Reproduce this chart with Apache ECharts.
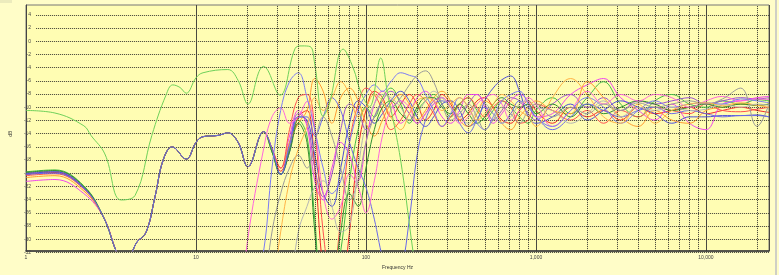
<!DOCTYPE html>
<html>
<head>
<meta charset="utf-8">
<script src="https://cdn.jsdelivr.net/npm/echarts@6/dist/echarts.min.js"></script>
<style>
html,body{margin:0;padding:0;background:#fffdc8;}
#c{width:779px;height:275px;}
</style>
</head>
<body>
<div id="c"></div>
<script>
// ---------- data ----------
const Y_TICKS_MIN = -32, Y_TICKS_MAX = 4, Y_TICK_STEP = 2;
const MINOR_LINES = [20,30,40,50,60,70,80,90,200,300,400,500,600,700,800,900,2000,3000,4000,5000,6000,7000,8000,9000,20000];

// low-frequency grid shared by most curves (Hz)
const LF = [1, 1.48, 2.19, 2.87, 3.43, 3.8, 4.15, 4.49, 5.08, 5.74, 6.42, 7.25, 8.76, 10, 11, 13.5, 15.4, 17.7, 20.2];
const BASE_LOW = [-27.8, -33.3, -35, -33.5, -31.6, -30.1, -24.5, -18.7, -16.7, -18.6, -16, -15.1, -14.9, -14.5, -16, -19.8];
// high-frequency grid (Hz)
const HF = [25, 28, 31.5, 35.5, 40, 45, 50, 56, 63, 71, 80, 90, 100, 112, 125, 140, 160, 180, 200, 224, 250, 280, 315, 355, 400, 450, 500, 560, 630, 710, 800, 900, 1000, 1250, 1600, 2000, 2500, 3150, 4000, 5000, 6300, 8000, 10000, 12500, 16000, 20000, 23500];

const RED_START = [-21.0, -20.7, -23.2];
const RED_HI = [-14.3,-17,-20.5,-17,-12, -11,-20,-36,-42,-40, -30,-17,-11,-8,-9, -12,-10,-8.5,-10,-12.5, -11,-8.5,-10,-12.5,-11.5, -9.5,-9,-10.5,-12.5,-13, -11,-9.5,-11,-13,-10.5, -12,-11,-12.5,-10.5,-11.5, -11,-10.5,-11.5,-11,-10.5, -11,-11.3];
const GREEN_START = [-20.6, -20.3, -22.8];
const GREEN_HI = [-14.3,-17.5,-21,-17,-12.5, -15,-28,-40,-40,-33, -22,-14,-10.5,-12,-9, -7.5,-10,-13,-11,-9.5, -8.5,-10,-12,-10,-9, -11,-12.5,-11,-9.5,-10.5, -12,-13,-11,-9,-11.5, -9,-6.5,-10,-12,-9.5, -8.5,-10,-10.5,-9.5,-10, -9.3,-9.5];
const PURPLE_START = [-20.8, -20.5, -23.0];
const PURPLE_HI = [-14.3,-17,-21,-16,-11.5, -13,-20,-24.5,-21,-14, -10,-11,-14,-12,-9.5, -8,-9.5,-11.5,-13,-11.5, -9.5,-9,-10.5,-12,-10, -8.5,-10,-12.5,-11,-9, -9.5,-11.5,-12.5,-10,-8.5, -10.5,-9,-11,-9.5,-10, -9.5,-9,-10,-9.5,-9, -9.2,-9];
const MAGENTA_START = [-22.1, -21.8, -24.0];
const MAGENTA_HI = [-14.3,-17,-20,-15,-11, -13.5,-22,-25,-20,-16, -18,-22,-16,-10,-8, -9.5,-13,-11.5,-9,-8, -9.5,-12,-13,-11,-8.5, -8.5,-10.5,-13,-11.5,-9.5, -8.5,-9.5,-12,-11.5,-8.5, -7,-6,-9,-11,-12.5, -10,-13,-14,-10,-9.5, -9,-8.8];
const BLUE_START = [-20.9, -20.6, -23.1];
const BLUE_HI = [-14.3,-17,-21,-17.5,-12, -12.5,-18,-24,-26,-20, -13,-9.5,-10.5,-13,-11.5, -9.5,-8,-9.5,-12,-13.5, -12,-10,-9.5,-11,-13.5, -12.5,-9.5,-7.5,-6.2,-5.6, -8,-12,-13,-12,-10, -12.5,-11,-9.5,-10.5,-11.5, -13,-12,-12,-11.8,-11.8, -11.7,-12];
const ORANGE_START = [-21.5, -21.2, -23.6];
const ORANGE_HI = [-14.3,-17,-20,-16,-13, -11,-6,-8,-13,-9, -7.5,-9.5,-13,-15,-12.5, -10,-8.5,-10,-12.5,-11, -9,-8,-9.5,-12.5,-13.5, -11.5,-9.5,-10.5,-13,-14, -12,-10.5,-9.5,-11,-11.5, -6.5,-9,-12,-13.5,-11, -12.5,-13,-11,-10.5,-10, -10.2,-10];
const RED2_START = [-21.2, -20.9, -23.3];
const RED2_HI = [-14.3,-17,-20,-14,-9, -8.5,-14,-30,-38,-28, -16,-10,-7.5,-8.5,-11, -14,-12.5,-10,-8.5,-9.5, -11.5,-13.5,-12,-10,-9, -10.5,-12,-10.5,-9.5,-10.5, -13,-12.5,-10,-11,-12.5, -11,-13,-11,-12,-10.5, -11,-11.5,-10,-11,-11.2, -10.8,-10.5];
const DKGREEN_START = [-20.7, -20.4, -22.9];
const DKGREEN_HI = [-14.3,-17.5,-21,-17.5,-13, -16,-30,-42,-40,-30, -24,-26,-20,-14,-10.5, -9.5,-11.5,-12.5,-10.5,-9, -9,-10.5,-11.5,-10,-11.5, -13,-12,-10,-9,-10, -10.5,-10,-11.5,-10,-12, -10,-11.5,-10.5,-9.5,-10, -11,-10.5,-10,-10.5,-10, -10.2,-10];
const BLUE4_START = [-21.0, -20.8, -23.2];
const BLUE4_HI = [-14.3,-17,-21,-16.5,-12, -12,-15,-12,-9,-11, -16,-20,-23,-28,-34, -38,-36,-28,-18,-12.5, -10,-9.5,-10.5,-13,-14.5, -12.5,-10.5,-11.5,-13,-11.5, -9.5,-10.5,-12,-14,-12, -10,-11,-12,-11,-10.5, -11.5,-11,-11.5,-12,-11.8, -11.8,-12];

// curves that start below the visible range
const MAG2_LOW = [null,null,null,null,null,null,null,null,null,null,null,null,null,null,null,null,null,-45,-31];
const MAG2_HI = [-17,-12,-10.6,-13,-12, -9.6,-14,-24,-28,-26, -21,-23,-27,-22,-15, -11,-9.5,-10.5,-13,-11.5, -10,-9,-10.5,-13,-12, -10,-9,-8.5,-10,-12.5, -11,-9,-10,-13.5,-11, -8,-10,-8.5,-9.5,-8.5, -9,-10.5,-9.5,-8.8,-9.5, -9.2,-9.3];
const BLUE2_LOW = [null,null,null,null,null,null,null,null,null,null,null,null,null,null,null,null,null,null,-45];
const BLUE2_HI = [-33,-20,-11,-6.5,-5.1, -9,-14,-20,-24,-22, -16,-11,-8.5,-7,-8, -6.5,-5.1,-5.5,-6,-8.5, -11,-13.5,-11.5,-9,-10.5, -13,-14,-12,-9.5,-8.5, -8,-10,-12,-13.5,-11, -9,-10.5,-13,-11,-9.5, -10.5,-10,-9.8,-10,-9.2, -9.5,-9.8];
const GRAY_HI = [-40,-30,-24,-20,-18, -20,-16,-12,-15,-20, -25,-22,-16,-12,-10, -10.5,-9,-7,-5.5,-4.8, -6.5,-10,-12.5,-11.5,-10, -12,-14,-12.5,-10.5,-11.5, -13,-11,-10,-12,-10.5, -11.5,-10,-11,-9.8,-10.5, -10,-9.5,-10,-9.2,-7.5, -13.5,-10];
const ORANGE2_HI = [null,-40,-30,-22,-17, -13.5,-9,-11,-9,-6.5, -8.5,-12,-10.5,-8.5,-9.5, -12,-14,-11.5,-9.5,-9, -9.5,-11,-10,-9,-10.5, -12.5,-11.5,-10,-8.5,-9.5, -11,-12,-13.5,-9,-6, -8.5,-12,-13,-10,-13, -11,-10,-9.8,-10.2,-9.8, -10.2,-10.5];
const GRAY2_HI = [null,null,null,-40,-30, -26,-23,-22,-26,-30, -29,-20,-13,-10,-8.5, -9,-10.5,-12.5,-11.5,-9.5, -8,-9,-10.5,-12,-13, -11,-10,-11.5,-13,-12, -10,-9.5,-10.5,-11,-13, -11.5,-9.5,-12,-10.5,-11, -10.5,-11,-10.8,-10,-10.5, -10,-10.2];

// reference (upper green) curve
const REF_F = [1, 1.48, 2.19, 2.41, 2.91, 3.62, 4.38, 5.5, 6.66, 7.3, 8.05, 8.76, 10, 11, 15.4, 17.7, 20.2, 23.5, 24.9, 31.2, 38.3, 42, 46.9, 50, 56, 61, 73.5, 84, 94, 105, 122, 135, 147, 163, 189, 220];
const REF_V = [-11, -11.4, -13.4, -14.9, -17.8, -25, -24.3, -14.9, -8.6, -7.0, -7.4, -8.3, -5.9, -5.1, -4.6, -6.3, -10, -4.9, -4.1, -8.6, -1.3, -0.9, -1.0, -3.8, -11.9, -9.9, -1.4, -4.3, -8.4, -10.4, -2.8, -8.9, -13.4, -20.2, -33, -45];

const NULL_LOW = LF.map(() => null);
const CURVES = [
  {color:'#f02828', lo:RED_START.concat(BASE_LOW), hi:RED_HI},
  {color:'#44bb44', lo:GREEN_START.concat(BASE_LOW), hi:GREEN_HI},
  {color:'#9b4fd0', lo:PURPLE_START.concat(BASE_LOW), hi:PURPLE_HI},
  {color:'#ee44ee', lo:MAGENTA_START.concat(BASE_LOW), hi:MAGENTA_HI},
  {color:'#4d4dd8', lo:BLUE_START.concat(BASE_LOW), hi:BLUE_HI},
  {color:'#ff9a30', lo:ORANGE_START.concat(BASE_LOW), hi:ORANGE_HI},
  {color:'#ff5050', lo:RED2_START.concat(BASE_LOW), hi:RED2_HI},
  {color:'#2f8f2f', lo:DKGREEN_START.concat(BASE_LOW), hi:DKGREEN_HI},
  {color:'#6a6ae8', lo:BLUE4_START.concat(BASE_LOW), hi:BLUE4_HI},
  {color:'#ff66dd', lo:MAG2_LOW, hi:MAG2_HI},
  {color:'#7b7bf5', lo:BLUE2_LOW, hi:BLUE2_HI},
  {color:'#9a9a9a', lo:NULL_LOW, hi:GRAY_HI},
  {color:'#ffb347', lo:NULL_LOW, hi:ORANGE2_HI},
  {color:'#b5b5b5', lo:NULL_LOW, hi:GRAY2_HI}
];

// ---------- chart ----------
const FREQ = LF.concat(HF);
function pairs(fs, vs){ const out=[]; for(let i=0;i<fs.length;i++){ if(vs[i]!==null && vs[i]!==undefined) out.push([fs[i], vs[i]]); } return out; }

const series = CURVES.map(c => ({
  type:'line', xAxisIndex:0, yAxisIndex:0, showSymbol:false, smooth:0.4, silent:true,
  lineStyle:{width:1, color:c.color}, itemStyle:{color:c.color},
  data: pairs(FREQ, c.lo.concat(c.hi)), z:3
}));
series.push({
  type:'line', xAxisIndex:0, yAxisIndex:0, showSymbol:false, smooth:0.4, silent:true,
  lineStyle:{width:1, color:'#6fd05a'}, data: pairs(REF_F, REF_V), z:4
});
series.push({
  type:'line', xAxisIndex:0, yAxisIndex:0, data:[], silent:true, z:2,
  markLine:{silent:true, symbol:['none','none'], label:{show:false}, animation:false,
    lineStyle:{color:'#3c3c32', width:1, type:'dotted'},
    data: MINOR_LINES.map(v => ({xAxis:v}))}
});

const chart = echarts.init(document.getElementById('c'), null, {renderer:'canvas'});
chart.setOption({
  animation:false,
  backgroundColor:'#fffdc8',
  textStyle:{fontFamily:'Liberation Sans, Arial, sans-serif'},
  graphic:[
    {type:'rect', shape:{x:0,y:0,width:12,height:3}, style:{fill:'#ecebbd'}, silent:true},
    {type:'rect', shape:{x:775,y:0,width:2,height:275}, style:{fill:'#cfcfc6'}, silent:true}
  ],
  grid:[
    {left:26, right:10, top:5, bottom:16, show:true, backgroundColor:'#fffdb3', borderColor:'#777', borderWidth:1},
    {left:26, right:10, top:14.9, bottom:22.6, show:false}
  ],
  xAxis:[
    {gridIndex:0, type:'log', logBase:10, min:1, max:23500, z:1,
     axisLine:{show:true, onZero:false, lineStyle:{color:'#333', width:1.5}}, axisTick:{show:false},
     axisLabel:{fontSize:5, color:'#444', margin:4, showMaxLabel:false, formatter:v => Number(v).toLocaleString('en-US')},
     splitLine:{show:true, lineStyle:{color:'#4a4a40', width:1, type:'solid'}},
     name:'Frequency Hz', nameLocation:'middle', nameGap:10, nameTextStyle:{fontSize:5, color:'#333'}},
    {gridIndex:1, type:'value', show:false, min:0, max:1}
  ],
  yAxis:[
    {gridIndex:0, type:'value', min:-33, max:5.5, z:1,
     axisLine:{show:true, onZero:false, lineStyle:{color:'#444', width:1}}, axisTick:{show:false},
     axisLabel:{show:false}, splitLine:{show:false}},
    {gridIndex:1, type:'value', min:Y_TICKS_MIN, max:Y_TICKS_MAX, interval:Y_TICK_STEP, z:1,
     axisLine:{show:false}, axisTick:{show:false},
     axisLabel:{fontSize:5, color:'#444', margin:5},
     splitLine:{show:true, lineStyle:{color:'#3c3c32', width:1, type:'dotted'}},
     name:'dB', nameLocation:'middle', nameGap:15, nameRotate:90, nameTextStyle:{fontSize:5, color:'#333'}}
  ],
  series: series
});
</script>
</body>
</html>
